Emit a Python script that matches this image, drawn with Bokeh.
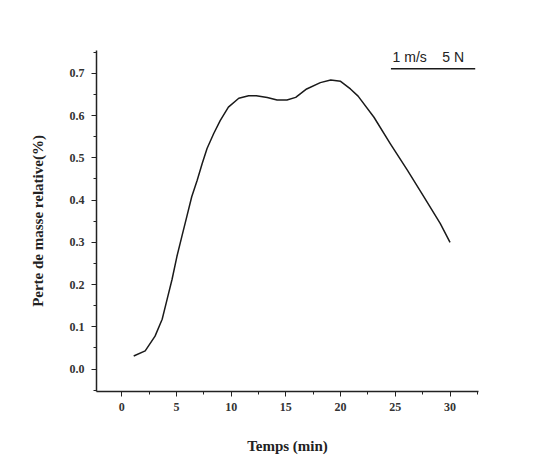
from bokeh.plotting import figure
from bokeh.models import SingleIntervalTicker, Label, Range1d, PrintfTickFormatter
from bokeh.embed import file_html
from bokeh.resources import INLINE

# Data
temps = [1.1, 2.15, 3.05, 3.7, 4.15, 4.6, 5.05, 5.5, 5.95, 6.4, 6.9, 7.35, 7.8,
         8.4, 9.0, 9.75, 10.7, 11.6, 12.3, 13.3, 14.2, 15.1, 15.9, 16.9, 18.15,
         19.1, 20.0, 20.9, 21.6, 23.05, 24.55, 26.1, 27.6, 29.1, 30.0]
perte = [0.031, 0.043, 0.078, 0.118, 0.165, 0.212, 0.267, 0.314, 0.361, 0.408,
         0.447, 0.486, 0.522, 0.557, 0.588, 0.620, 0.641, 0.647, 0.647, 0.643,
         0.637, 0.637, 0.643, 0.663, 0.678, 0.684, 0.681, 0.663, 0.646, 0.596,
         0.533, 0.471, 0.408, 0.345, 0.300]
legend_text = "1 m/s\u00a0\u00a0\u00a0\u00a05 N"
legend_x = [24.6, 32.3]
legend_y = 0.711
x_title = "Temps (min)"
y_title = "Perte de masse relative(%)"

p = figure(width=526, height=456, output_backend="svg", toolbar_location=None,
           x_range=Range1d(-2.3, 32.6), y_range=Range1d(-0.053, 0.754),
           min_border_left=96, min_border_right=48, min_border_top=50,
           min_border_bottom=64)
p.outline_line_color = None
p.xgrid.visible = False
p.ygrid.visible = False
p.background_fill_color = "white"
p.border_fill_color = "white"

p.line(temps, perte, line_color="#1a1a1a", line_width=1.5, line_join="round")

p.xaxis.ticker = SingleIntervalTicker(interval=5, num_minor_ticks=2)
p.yaxis.ticker = SingleIntervalTicker(interval=0.1, num_minor_ticks=2)
p.yaxis.formatter = PrintfTickFormatter(format="%.1f")

for ax in (p.xaxis[0], p.yaxis[0]):
    ax.axis_line_color = "#222222"
    ax.axis_line_width = 1.5
    ax.major_tick_line_color = "#222222"
    ax.minor_tick_line_color = "#222222"
    ax.major_tick_out = 5
    ax.major_tick_in = 0
    ax.minor_tick_out = 3
    ax.minor_tick_in = 0
    ax.major_label_text_font = "Liberation Serif"
    ax.major_label_text_font_style = "bold"
    ax.major_label_text_font_size = "12px"
    ax.major_label_text_color = "#333333"
    ax.axis_label_text_font = "Liberation Serif"
    ax.axis_label_text_font_style = "bold"
    ax.axis_label_text_font_size = "15px"
    ax.axis_label_text_color = "#222222"

p.xaxis.axis_label = x_title
p.yaxis.axis_label = y_title
p.xaxis.major_label_standoff = 6
p.xaxis.axis_label_standoff = 24
p.yaxis.major_label_standoff = 7
p.yaxis.axis_label_standoff = 21

# legend: text with an underline sample
p.add_layout(Label(x=legend_x[0] + 0.15, y=legend_y + 0.008, text=legend_text,
                   text_font="Liberation Sans", text_font_size="14px",
                   text_color="#222222", text_baseline="bottom"))
p.line(legend_x, [legend_y, legend_y], line_color="#1a1a1a", line_width=1.5)

open("out.html", "w").write(file_html(p, INLINE))
